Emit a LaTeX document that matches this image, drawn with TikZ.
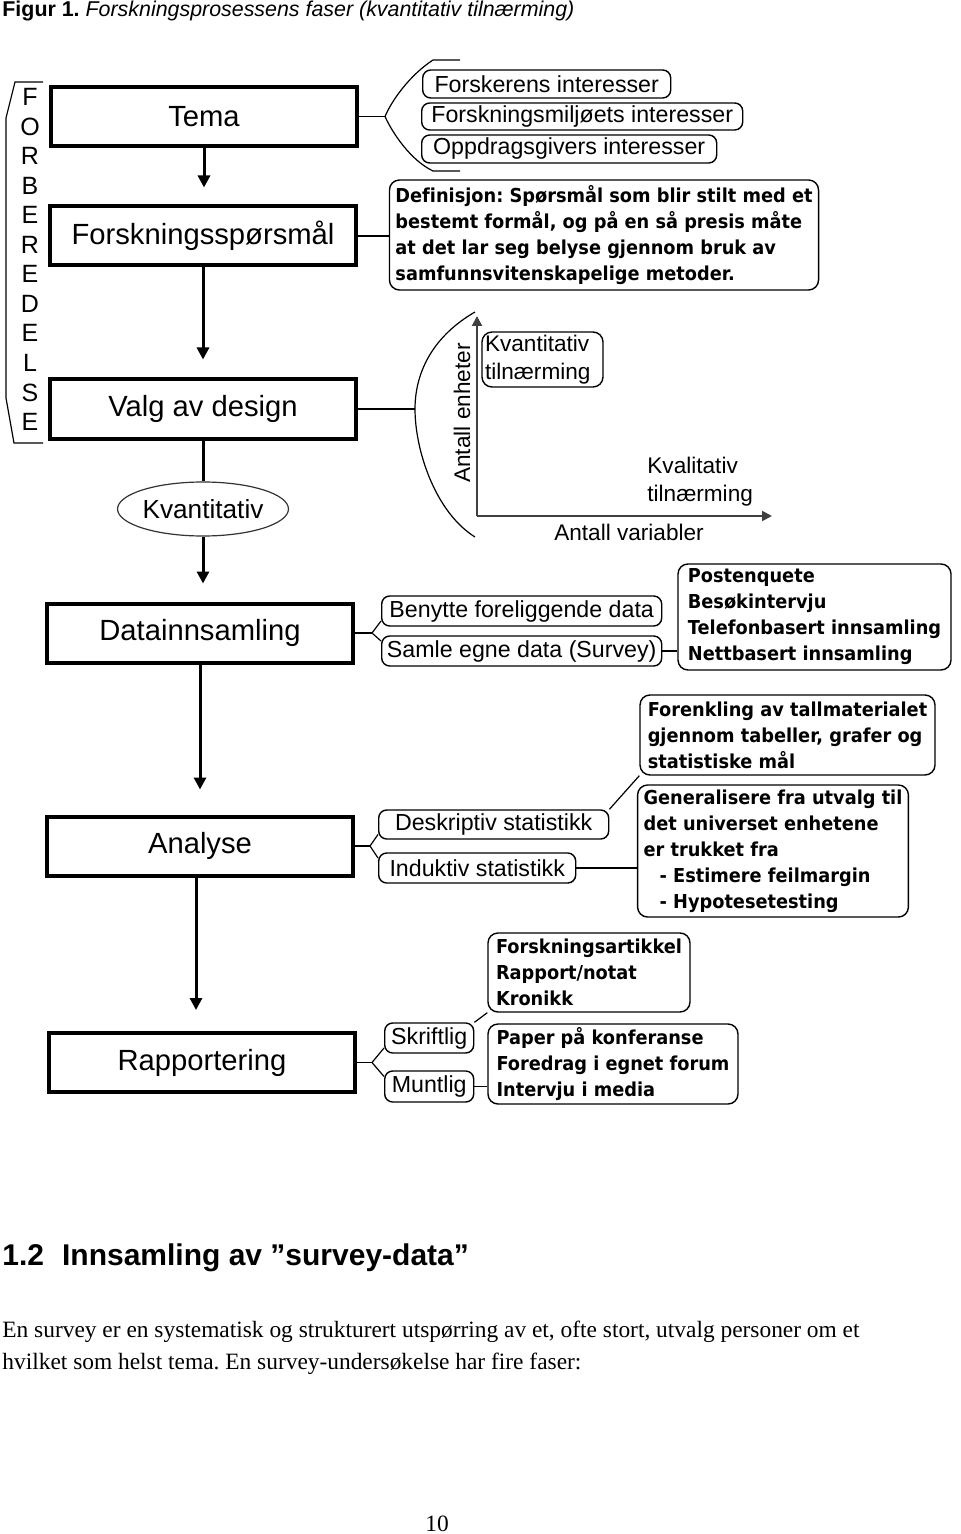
\documentclass[tikz,border=0pt]{standalone}
\usepackage{fontspec}
\setmainfont{Liberation Sans}
\newfontfamily\serifft{Liberation Serif}
\newfontfamily\boldft[FakeStretch=0.925, Ligatures=NoCommon]{DejaVu Sans}
\usetikzlibrary{arrows.meta,shapes.geometric}
\frenchspacing

\tikzset{
  phase/.style={draw, line width=2pt, minimum width=153pt, minimum height=29.5pt,
    font=\fontsize{14.6}{17}\selectfont},
  pill/.style={draw, line width=0.7pt, rounded corners=4pt, inner sep=0pt,
    minimum height=14pt, font=\fontsize{11.6}{14}\selectfont},
  notebox/.style={draw, line width=0.7pt, rounded corners=5pt, inner xsep=3pt,
    inner ysep=0pt, align=left, font=\boldft\bfseries\fontsize{9.6}{13}\selectfont},
  sideletter/.style={inner sep=0pt, font=\fontsize{12.5}{14}\selectfont},
  flowarrow/.style={line width=1.5pt, -{Triangle[width=6pt,length=6pt]}},
  linkline/.style={line width=0.6pt},
  axisline/.style={line width=1pt, draw=black!75, -{Triangle[width=5pt,length=5pt]}},
}

\begin{document}
\begin{tikzpicture}[x=0.5pt,y=-0.5pt]
	\useasboundingbox (0,0) rectangle (960,1534);

	% caption
	\node[anchor=base west, inner sep=0pt, font=\fontsize{10.7}{13}\selectfont] (caption) at (2,17)
		{\textbf{Figur 1.} \textit{Forskningsprosessens faser (kvantitativ tilnærming)}};

	% phases
	\node[phase] (tema) at (204,116.5) {Tema};
	\node[phase] (sporsmal) at (203,236) {Forskningsspørsmål};
	\node[phase] (design) at (203,409) {Valg av design};
	\node[draw=black!80, line width=0.6pt, ellipse, inner sep=0pt, minimum width=76pt, minimum height=27pt,
		font=\fontsize{13.1}{15}\selectfont] (kvant) at (203,509) {Kvantitativ};
	\node[phase] (innsamling) at (200,633) {Datainnsamling};
	\node[phase] (analyse) at (200,846) {Analyse};
	\node[phase] (rapport) at (202,1062.5) {Rapportering};

	\draw[flowarrow, shorten >=8.5pt] (tema.south) -- (tema.south |- sporsmal.north);
	\draw[flowarrow, shorten >=9pt] (sporsmal.south) -- (sporsmal.south |- design.north);
	\draw[line width=1.5pt] (design.south) -- (design.south |- kvant.north);
	\draw[flowarrow, shorten >=9pt] (kvant.south) -- (kvant.south |- innsamling.north);
	\draw[flowarrow, shorten >=12.5pt] (innsamling.south) -- (innsamling.south |- analyse.north);
	\draw[flowarrow, shorten >=10.5pt] ([xshift=-2pt]analyse.south) -- ([xshift=-2pt]analyse.south |- rapport.north);

	% forberedelse
	\draw[linkline] (43,82) -- (15,82) -- (6,118) -- (6,398) -- (14,443) -- (43,443);
	\foreach \l [count=\i from 0] in {F,O,R,B,E,R,E,D,E,L,S,E}
		\node[sideletter] (f\i) at (30,{97+29.55*\i}) {\l};

	% tema
	\node[pill, anchor=west, minimum width=124pt] (forsker) at (422,84) {Forskerens interesser};
	\node[pill, anchor=west, minimum width=160.5pt, minimum height=13.5pt] (miljo) at (421,116.5) {Forskningsmiljøets interesser};
	\node[pill, anchor=west, minimum width=147.5pt] (oppdrag) at (421,149) {Oppdragsgivers interesser};
	\coordinate (temafork) at (385,116.5);
	\coordinate (bracetop) at (460,60);
	\coordinate (bracebot) at (460,171);
	\draw[linkline] (tema.east) -- (temafork);
	\draw[linkline] (bracetop) -- (433,60) .. controls (410,75) and (392,100) .. (temafork)
		.. controls (392,132) and (410,160) .. (433,171) -- (bracebot);

	% sporsmal
	\node[notebox, minimum width=214pt, minimum height=55pt] (definisjon) at (604,235)
		{Definisjon: Spørsmål som blir stilt med et\\bestemt formål, og på en så presis måte\\at det lar seg belyse gjennom bruk av\\samfunnsvitenskapelige metoder.};
	\draw[linkline] (sporsmal.east) -- (sporsmal.east -| definisjon.west);

	% design
	\coordinate (designfork) at (415,409);
	\coordinate (arctop) at (475,312);
	\coordinate (arcbot) at (475,537);
	\draw[linkline] (design.east) -- (designfork);
	\draw[linkline] (arctop) .. controls (435,335) and (415,370) .. (designfork)
		.. controls (415,450) and (435,512) .. (arcbot);
	\coordinate (origo) at (477,516);
	\coordinate (ytop) at (477,316);
	\coordinate (xend) at (772,516);
	\draw[axisline] (origo) -- (ytop);
	\draw[axisline] (origo) -- (xend);
	\node[rotate=90, inner sep=0pt, font=\fontsize{11.3}{13}\selectfont] (enheter) at (462,413) {Antall enheter};
	\node[draw, line width=0.7pt, rounded corners=5pt, align=left, inner xsep=1.5pt, inner ysep=0pt,
		text width=57.5pt, minimum height=27.5pt, font=\fontsize{11.3}{14}\selectfont] (kvantbox) at (542.5,359.5)
		{Kvantitativ\\tilnærming};
	\node[anchor=west, align=left, inner sep=0pt, font=\fontsize{11.3}{14}\selectfont] (kvalitativ) at (647,482)
		{Kvalitativ\\tilnærming};
	\node[inner sep=0pt, font=\fontsize{11.3}{13}\selectfont] (variabler) at (629,532) {Antall variabler};

	% datainnsamling
	\node[pill, anchor=west, minimum width=140pt, minimum height=15pt] (benytte) at (381,611) {Benytte foreliggende data};
	\node[pill, anchor=west, minimum width=140pt, minimum height=15pt] (samle) at (381,651) {Samle egne data (Survey)};
	\node[notebox, minimum width=136.5pt, minimum height=53pt] (metoder) at (814.5,617)
		{Postenquete\\Besøkintervju\\Telefonbasert innsamling\\Nettbasert innsamling};
	\coordinate (datafork) at (372,633);
	\draw[linkline] (innsamling.east) -- (datafork);
	\draw[linkline] ([yshift=-5pt]benytte.west) -- (datafork) -- ([yshift=5pt]samle.west);
	\draw[linkline] (samle.east) -- (samle.east -| metoder.west);

	% analyse
	\node[pill, anchor=west, minimum width=115pt, minimum height=14.5pt] (deskriptiv) at (378,824.5) {Deskriptiv statistikk};
	\node[pill, anchor=west, minimum width=98.5pt, minimum height=15pt] (induktiv) at (378,868) {Induktiv statistikk};
	\node[notebox, minimum width=147.5pt, minimum height=40pt] (forenkling) at (787.5,735)
		{Forenkling av tallmaterialet\\gjennom tabeller, grafer og\\statistiske mål};
	\node[notebox, minimum width=135pt, minimum height=66pt] (generalisere) at (773,851)
		{Generalisere fra utvalg til\\det universet enhetene\\er trukket fra\\\hspace*{8pt}- Estimere feilmargin\\\hspace*{8pt}- Hypotesetesting};
	\coordinate (analysefork) at (370,846);
	\draw[linkline] (analyse.east) -- (analysefork);
	\draw[linkline] ([yshift=-5pt]deskriptiv.west) -- (analysefork) -- ([yshift=5pt]induktiv.west);
	\draw[linkline] (deskriptiv.north east) -- (forenkling.south west);
	\draw[linkline] (induktiv.east) -- (induktiv.east -| generalisere.west);

	% rapportering
	\node[pill, anchor=west, minimum width=44.5pt, minimum height=15pt] (skriftlig) at (384,1038) {Skriftlig};
	\node[pill, anchor=west, minimum width=44.5pt, minimum height=15.5pt] (muntlig) at (384,1086.5) {Muntlig};
	\node[notebox, minimum width=101pt, minimum height=39.5pt] (skriftlige) at (589,972.5)
		{Forskningsartikkel\\Rapport/notat\\Kronikk};
	\node[notebox, minimum width=125pt, minimum height=40pt] (muntlige) at (613,1064)
		{Paper på konferanse\\Foredrag i egnet forum\\Intervju i media};
	\coordinate (rapportfork) at (372,1062.5);
	\draw[linkline] (rapport.east) -- (rapportfork);
	\draw[linkline] ([yshift=-5pt]skriftlig.west) -- (rapportfork) -- ([yshift=5pt]muntlig.west);
	\draw[linkline] (skriftlig.north east) -- (skriftlige.south west);
	\draw[linkline] (muntlig.east) -- (muntlig.east -| muntlige.west);

	% text below the figure
	\node[anchor=base west, inner sep=0pt, font=\bfseries\fontsize{15}{18}\selectfont] (heading) at (2,1265)
		{1.2\hspace{0.6em}Innsamling av ”survey-data”};
	\node[anchor=base west, inner sep=0pt, font=\serifft\fontsize{11.7}{14}\selectfont] (body1) at (2,1337)
		{En survey er en systematisk og strukturert utspørring av et, ofte stort, utvalg personer om et};
	\node[anchor=base west, inner sep=0pt, font=\serifft\fontsize{11.7}{14}\selectfont] (body2) at (2,1369)
		{hvilket som helst tema. En survey-undersøkelse har fire faser:};
	\node[anchor=base, inner sep=0pt, font=\serifft\fontsize{11.7}{14}\selectfont] (pagenum) at (437,1531) {10};
\end{tikzpicture}
\end{document}
